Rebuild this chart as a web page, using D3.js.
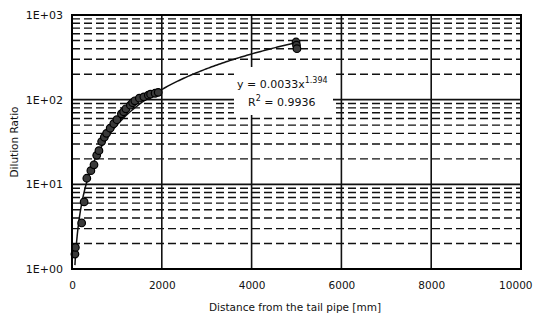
<!DOCTYPE html>
<html lang="en">
<head>
  <meta charset="UTF-8">
  <title>Dilution Ratio</title>
  <script src="https://cdn.jsdelivr.net/npm/d3@7"></script>
  <style>
    body { margin: 0; background: #fff; }
    text { font-family: "DejaVu Sans", sans-serif; fill: #111; }
  </style>
</head>
<body>
  <div id="chart"></div>
  <script>
    // Measured points (distance mm, dilution ratio)
    const distance = [65, 75, 215, 270, 330, 420, 490, 550, 600, 660, 720, 770, 850, 930, 1000,
                      1100, 1150, 1200, 1300, 1350, 1400, 1500, 1600, 1700, 1750, 1850, 1920,
                      4990, 5000, 5010];
    const dilution = [1.5, 1.8, 3.5, 6.2, 11.8, 14.5, 17, 22, 25, 32, 36, 40, 46, 52, 58,
                      68, 72, 78, 86, 92, 97, 104, 108, 113, 116, 119, 122,
                      480, 440, 400];
    const xTicks = [0, 2000, 4000, 6000, 8000, 10000];
    const yTicks = [1, 10, 100, 1000];
    const yTickLabels = ["1E+00", "1E+01", "1E+02", "1E+03"];
    // power trendline y = a x^b
    const fitA = 0.0033, fitB = 1.394;
    const fitLabel = ["y = 0.0033x", "1.394", "R", "2", " = 0.9936"];

    const W = 534, H = 320;
    const margin = {top: 15, right: 13, bottom: 51, left: 72};
    const width = W - margin.left - margin.right;
    const height = H - margin.top - margin.bottom;

    const svg = d3.select("#chart").append("svg")
      .attr("width", W).attr("height", H);
    const g = svg.append("g")
      .attr("transform", `translate(${margin.left},${margin.top})`);

    const x = d3.scaleLinear().domain([0, 10000]).range([0, width]);
    const y = d3.scaleLog().domain([1, 1000]).range([height, 0]);

    // minor dashed grid
    const minor = [];
    for (let d = 1; d < 1000; d *= 10) for (let k = 2; k <= 9; k++) minor.push(d * k);
    g.selectAll(".minor").data(minor).join("line")
      .attr("x1", 0).attr("x2", width)
      .attr("y1", d => y(d)).attr("y2", d => y(d))
      .attr("stroke", "#111").attr("stroke-width", 1.4)
      .attr("stroke-dasharray", "8,4");

    // major grid
    g.selectAll(".hmaj").data(yTicks).join("line")
      .attr("x1", 0).attr("x2", width)
      .attr("y1", d => y(d)).attr("y2", d => y(d))
      .attr("stroke", "#111").attr("stroke-width", 1.6);
    g.selectAll(".vmaj").data(xTicks.slice(1, -1)).join("line")
      .attr("y1", 0).attr("y2", height)
      .attr("x1", d => x(d)).attr("x2", d => x(d))
      .attr("stroke", "#111").attr("stroke-width", 1.6);

    // trendline
    const [x0, x1] = d3.extent(distance);
    const trend = d3.range(0, 201).map(i => {
      const xv = x0 + (x1 - x0) * Math.pow(i / 200, 2);
      return [xv, fitA * Math.pow(xv, fitB)];
    }).filter(p => p[1] >= 1);
    g.append("path").datum(trend)
      .attr("fill", "none").attr("stroke", "#111").attr("stroke-width", 1.5)
      .attr("d", d3.line().x(d => x(d[0])).y(d => y(d[1])));

    // points
    g.selectAll(".pt").data(distance.map((d, i) => [d, dilution[i]])).join("circle")
      .attr("cx", d => x(d[0])).attr("cy", d => y(d[1])).attr("r", 3.8)
      .attr("fill", "#3a3a3a").attr("stroke", "#000").attr("stroke-width", 1.2);

    // equation label box
    g.append("rect").attr("x", 162).attr("y", 52).attr("width", 99).attr("height", 48)
      .attr("fill", "#fff");
    const eq = g.append("text").attr("x", 165).attr("y", 73).attr("font-size", 11);
    eq.append("tspan").text(fitLabel[0]);
    eq.append("tspan").attr("dy", -5).attr("font-size", 8).text(fitLabel[1]);
    const r2 = g.append("text").attr("x", 176).attr("y", 91).attr("font-size", 11);
    r2.append("tspan").text(fitLabel[2]);
    r2.append("tspan").attr("dy", -5).attr("font-size", 8).text(fitLabel[3]);
    r2.append("tspan").attr("dy", 5).text(fitLabel[4]);

    // plot frame
    g.append("rect").attr("width", width).attr("height", height)
      .attr("fill", "none").attr("stroke", "#000").attr("stroke-width", 2);

    // axes (labels only)
    const yAxis = g.append("g").call(d3.axisLeft(y).tickValues(yTicks)
      .tickFormat((d, i) => yTickLabels[i]).tickSize(0).tickPadding(9));
    yAxis.select(".domain").remove();
    yAxis.selectAll("text").attr("font-size", 11).attr("font-family", "DejaVu Sans");

    const xAxis = g.append("g").attr("transform", `translate(0,${height})`)
      .call(d3.axisBottom(x).tickValues(xTicks).tickFormat(d3.format("d"))
      .tickSize(0).tickPadding(13));
    xAxis.select(".domain").remove();
    xAxis.selectAll("text").attr("font-size", 10.5).attr("font-family", "DejaVu Sans");
    // keep the last label inside the window
    xAxis.selectAll(".tick").filter(d => d === 10000).select("text")
      .attr("text-anchor", "end").attr("x", 11);

    svg.append("text").attr("x", 295).attr("y", 311).attr("text-anchor", "middle")
      .attr("font-size", 10.5).text("Distance from the tail pipe [mm]");
    svg.append("text").attr("transform", "translate(18,142) rotate(-90)")
      .attr("text-anchor", "middle").attr("font-size", 10.5).text("Dilution Ratio");
  </script>
</body>
</html>
